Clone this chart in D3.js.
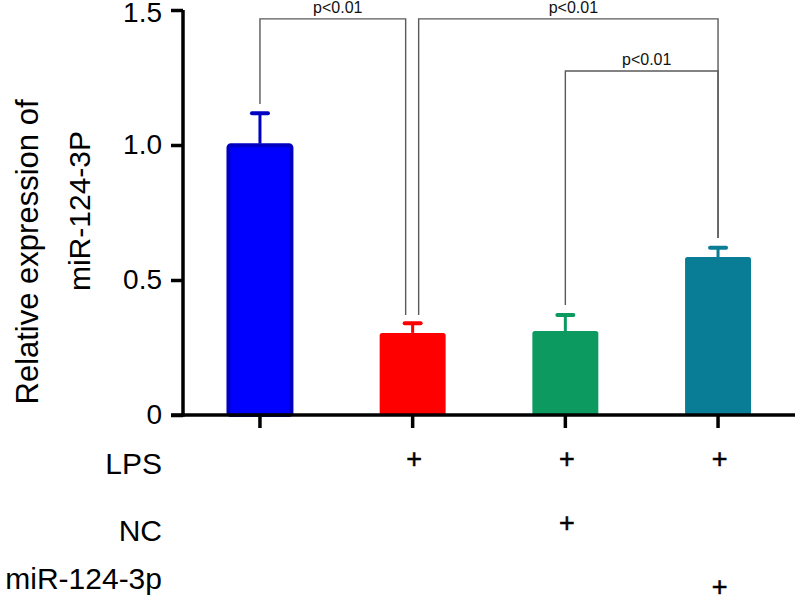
<!DOCTYPE html>
<html>
<head>
<meta charset="utf-8">
<script src="https://cdn.jsdelivr.net/npm/d3@7"></script>
<style>
  html, body { margin: 0; padding: 0; background: #fff; }
  svg { display: block; font-family: "Liberation Sans", Arial, sans-serif; }
</style>
</head>
<body>
<svg id="chart" width="800" height="602"></svg>
<script>
// ---- data ----
const groups = ["Control", "LPS", "LPS+NC", "LPS+miR-124-3p"];
const means = [1.005, 0.304, 0.311, 0.585];
const errors = [0.113, 0.036, 0.059, 0.034];
const barColors = ["#0000ff", "#ff0000", "#0c9a61", "#0a7d96"];
const barStrokes = ["#0000c2", "#ff0000", "#0c9a61", "#0a7d96"];
const yTicks = [0, 0.5, 1.0, 1.5];
const yTitleLines = ["Relative expression of", "miR-124-3P"];
const conditionRows = ["LPS", "NC", "miR-124-3p"];
const conditionMarks = [
  [false, true, true, true],
  [false, false, true, false],
  [false, false, false, true]
];
// significance brackets: from group, to group, level, left end, right end
const brackets = [
  { from: 0, to: 1, level: 1.467, endFrom: 1.152, endTo: 0.37, label: "p<0.01" },
  { from: 1, to: 3, level: 1.467, endFrom: 0.37, endTo: 0.656, label: "p<0.01" },
  { from: 2, to: 3, level: 1.274, endFrom: 0.407, endTo: 0.656, label: "p<0.01" }
];

// ---- layout ----
const svg = d3.select("#chart");
const x = d3.scaleBand().domain(groups).range([183, 795]).paddingInner(0.568).paddingOuter(0.288);
const y = d3.scaleLinear().domain([0, 1.5]).range([415, 10]);
const cx = g => x(g) + x.bandwidth() / 2;

// bars
svg.append("g").selectAll("rect").data(groups).join("rect")
  .attr("x", (g, i) => x(g) + (i === 0 ? 1.5 : 0))
  .attr("y", (g, i) => y(means[i]) + (i === 0 ? 1.5 : 0))
  .attr("width", (g, i) => x.bandwidth() - (i === 0 ? 3 : 0))
  .attr("height", (g, i) => y(0) - y(means[i]) - (i === 0 ? 1.5 : 0))
  .attr("rx", 2.5)
  .attr("fill", (g, i) => barColors[i])
  .attr("stroke", (g, i) => i === 0 ? barStrokes[i] : "none")
  .attr("stroke-width", 4);

// error bars
const eb = svg.append("g");
groups.forEach((g, i) => {
  eb.append("line")
    .attr("x1", cx(g)).attr("x2", cx(g))
    .attr("y1", y(means[i])).attr("y2", y(means[i] + errors[i]))
    .attr("stroke", barStrokes[i]).attr("stroke-width", 3);
  eb.append("line")
    .attr("x1", cx(g) - 8).attr("x2", cx(g) + 8)
    .attr("y1", y(means[i] + errors[i])).attr("y2", y(means[i] + errors[i]))
    .attr("stroke", barStrokes[i]).attr("stroke-width", 4).attr("stroke-linecap", "round");
});

// brackets
const br = svg.append("g").attr("fill", "none").attr("stroke", "#5a5a5a").attr("stroke-width", 1.4);
brackets.forEach((b, k) => {
  const offFrom = (k === 1 ? 6 : 0);
  const offTo = (k === 0 ? -7 : 0);
  const x1 = cx(groups[b.from]) + offFrom;
  const x2 = cx(groups[b.to]) + offTo;
  br.append("path")
    .attr("d", `M${x1},${y(b.endFrom)}V${y(b.level)}H${x2}V${y(b.endTo)}`);
  svg.append("text")
    .attr("x", (x1 + x2) / 2 + 5)
    .attr("y", y(b.level) - 6)
    .attr("text-anchor", "middle")
    .attr("font-size", 16)
    .attr("fill", "#111")
    .text(b.label);
});

// y axis
const yAxis = svg.append("g").attr("transform", "translate(183,0)")
  .call(d3.axisLeft(y).tickValues(yTicks).tickSize(12).tickPadding(9)
    .tickFormat(d => d === 0 ? "0" : d3.format(".1f")(d)));
yAxis.select(".domain").attr("stroke", "#000").attr("stroke-width", 3.5)
  .attr("d", `M0,${y(1.5)}V${y(0) + 1.75}`);
yAxis.selectAll(".tick line").attr("stroke", "#000").attr("stroke-width", 3.5);
yAxis.selectAll(".tick text").attr("font-size", 28).attr("fill", "#000")
  .attr("font-family", "Liberation Sans, Arial, sans-serif");
yAxis.selectAll(".tick").filter(d => d === 1.5).select("text").attr("dy", "0.4em");

// x axis
const xAxis = svg.append("g").attr("transform", `translate(0,${y(0)})`)
  .call(d3.axisBottom(x).tickSize(13).tickFormat(""));
xAxis.select(".domain").attr("stroke", "#000").attr("stroke-width", 3.5)
  .attr("d", "M171,0H795");
xAxis.selectAll(".tick line").attr("stroke", "#000").attr("stroke-width", 3.5);

// y title
const titleX = [38, 90];
const titleCY = [252, 211];
const titleSize = [31, 30];
yTitleLines.forEach((t, i) => {
  svg.append("text")
    .attr("transform", `translate(${titleX[i]},${titleCY[i]}) rotate(-90)`)
    .attr("text-anchor", "middle")
    .attr("font-size", titleSize[i])
    .attr("fill", "#000")
    .text(t);
});

// condition table
const rowBase = [474, 541, 589];
const plusCY = [459, 523, 587];
const plusSize = 27;
conditionRows.forEach((r, ri) => {
  svg.append("text")
    .attr("x", 162).attr("y", rowBase[ri])
    .attr("text-anchor", "end")
    .attr("font-size", 30)
    .attr("fill", "#000")
    .text(r);
  conditionMarks[ri].forEach((m, gi) => {
    if (!m) return;
    svg.append("text")
      .attr("x", cx(groups[gi]) + 1.5).attr("y", plusCY[ri] + plusSize * 0.33)
      .attr("text-anchor", "middle")
      .attr("font-size", plusSize)
      .attr("fill", "#000")
      .attr("stroke", "#000").attr("stroke-width", 0.5)
      .text("+");
  });
});
</script>
</body>
</html>
